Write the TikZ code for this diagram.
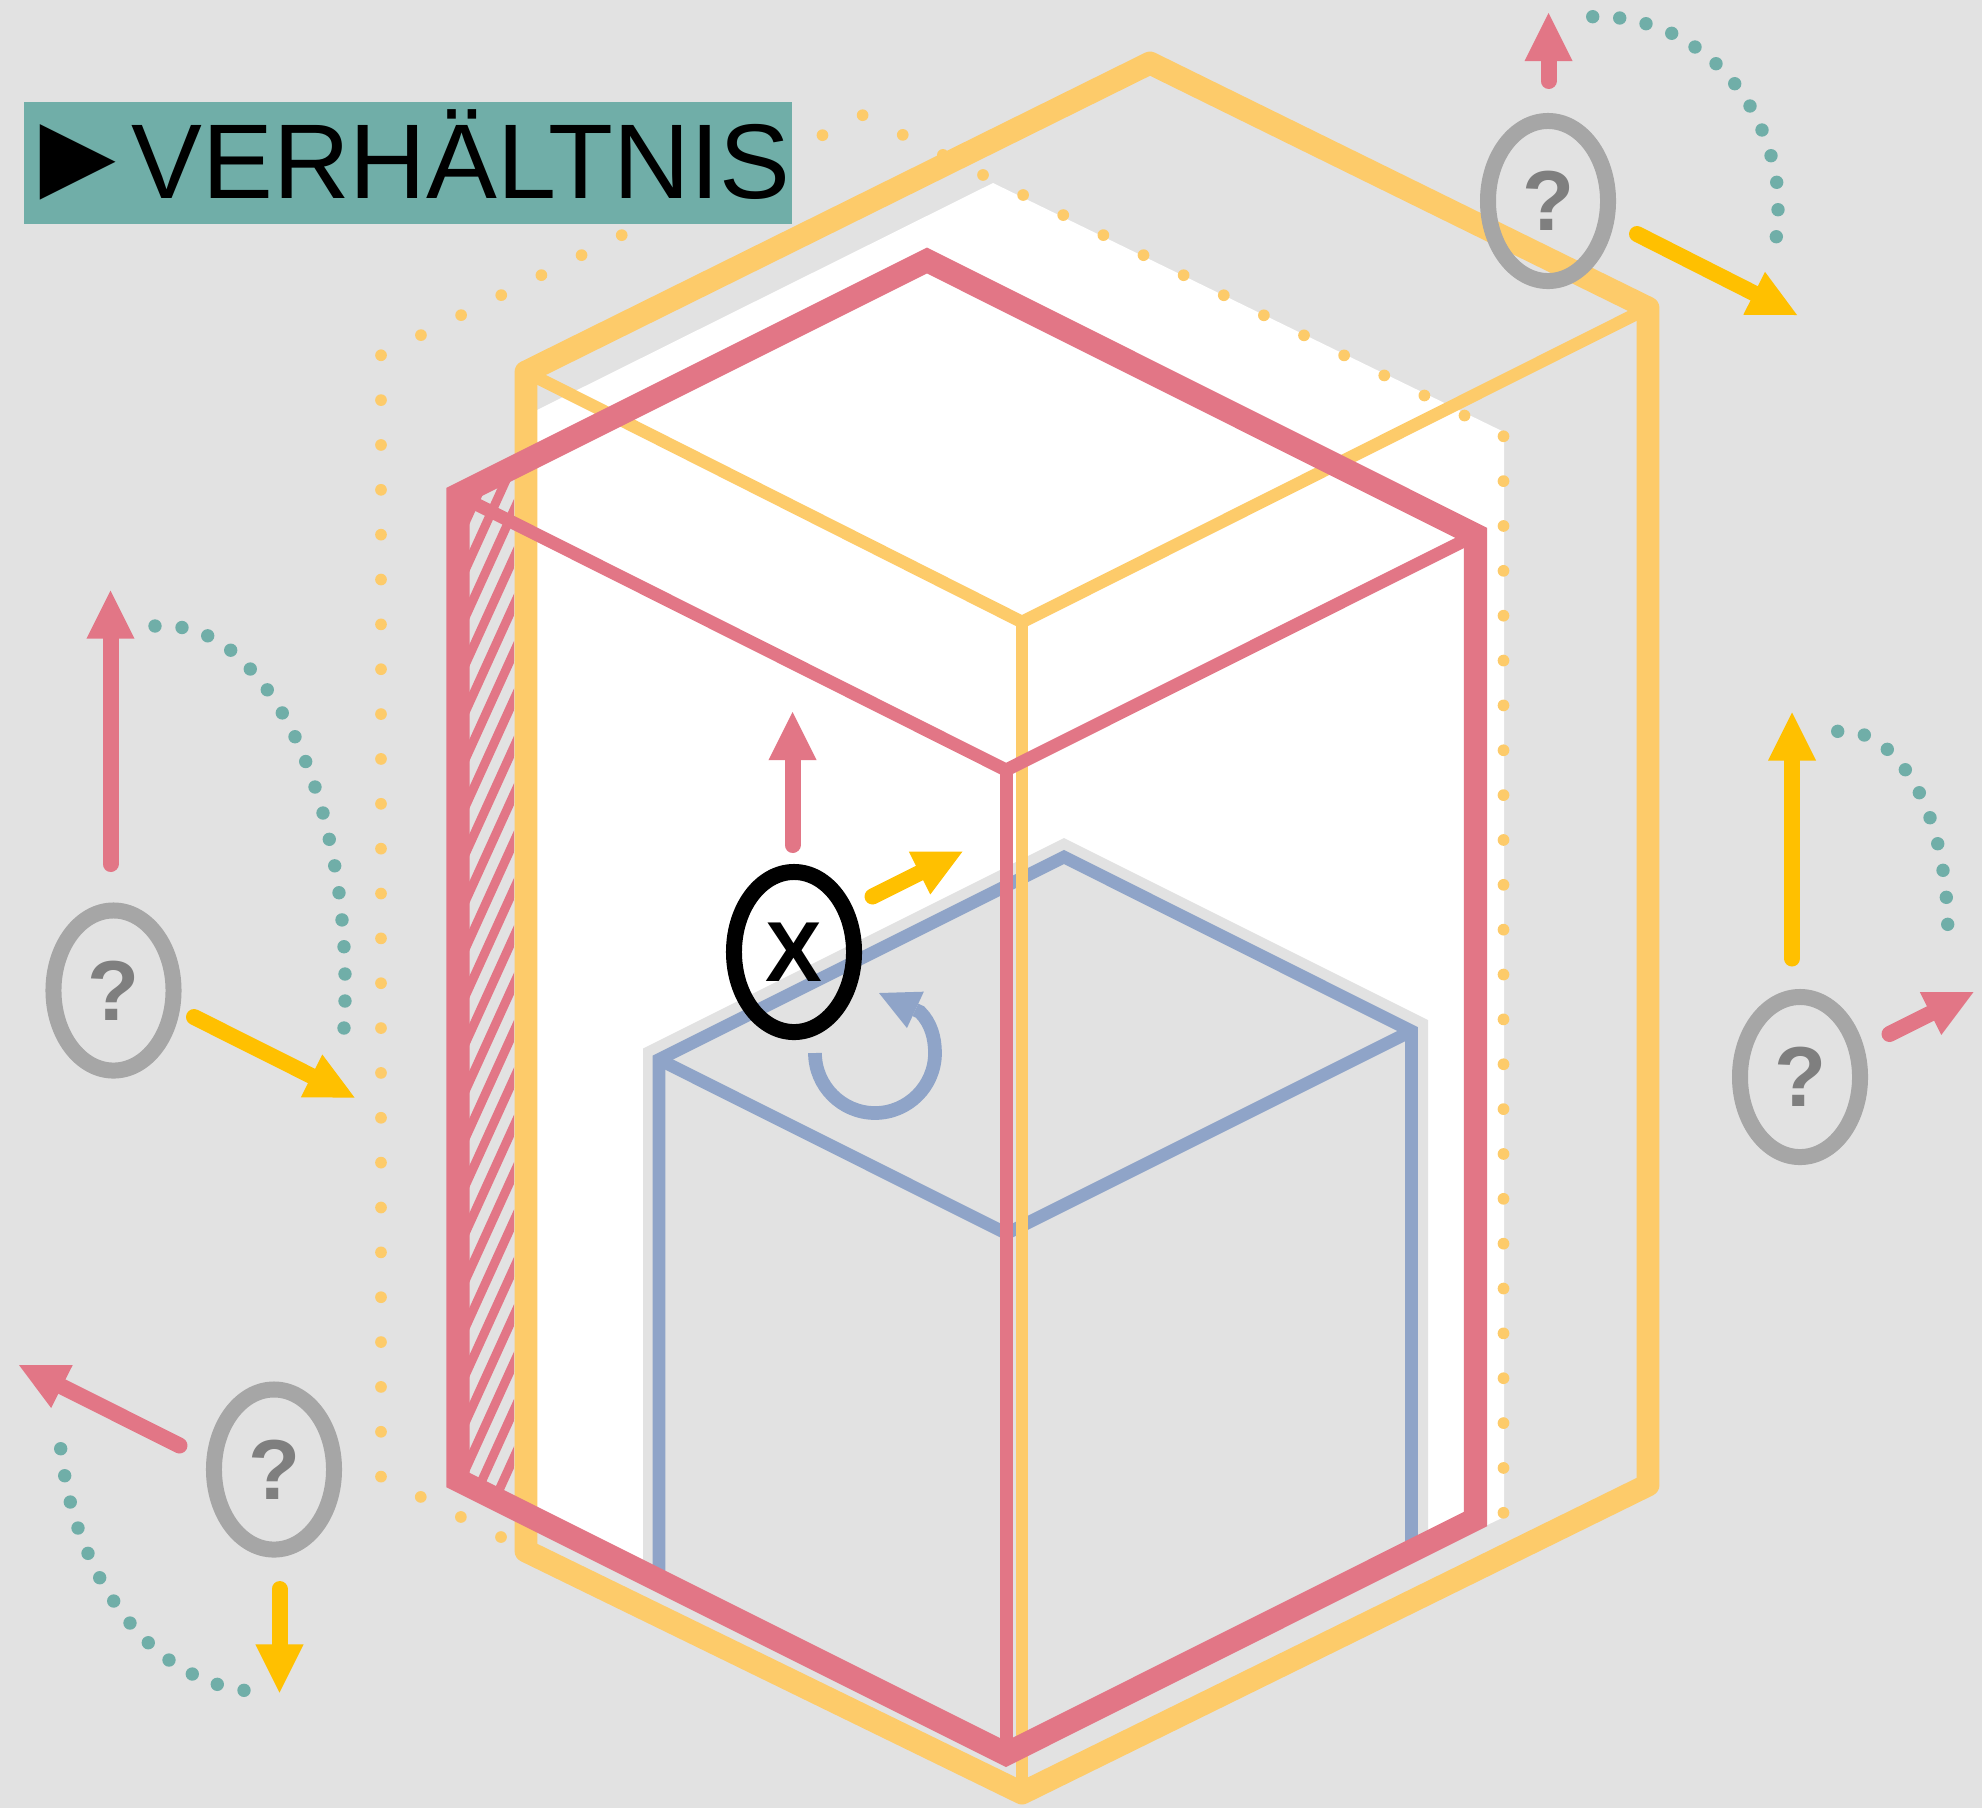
\documentclass[tikz,border=0pt]{standalone}
\usepackage{fontspec}
\setmainfont{Liberation Sans}
\usetikzlibrary{arrows.meta,shapes.geometric}
\definecolor{bgcol}{HTML}{E2E2E2}
\definecolor{gelb}{HTML}{FDCB6A}
\definecolor{gold}{HTML}{FFC000}
\definecolor{rosa}{HTML}{E27686}
\definecolor{blau}{HTML}{8FA4C8}
\definecolor{tuerkis}{HTML}{70AEA8}
\definecolor{grau}{HTML}{A6A6A6}
\definecolor{dunkelgrau}{HTML}{7F7F7F}
\begin{document}
\begin{tikzpicture}[x=0.01cm,y=-0.01cm,
  gelbdick/.style={draw=gelb,line width=6.5pt,line join=round},
  gelbduenn/.style={draw=gelb,line width=3.6pt},
  rosadick/.style={draw=rosa,line width=6.6pt},
  rosaduenn/.style={draw=rosa,line width=3.7pt},
  blaulinie/.style={draw=blau,line width=3.6pt},
  pfeil/.style={line width=4.55pt,line cap=round,-{Triangle[length=13.66pt,width=13.66pt,line width=0pt]}},
  ring/.style={ellipse,draw=grau,line width=4.55pt,minimum width=34.14pt,minimum height=45.52pt,inner sep=0pt,
    text=dunkelgrau,font=\fontsize{24.2pt}{24.2pt}\selectfont\bfseries}]
\useasboundingbox (0,0) rectangle (1982,1808);
\fill[bgcol] (0,0) rectangle (1982,1808);
% white box and grey cube
\fill[white] (537,410) -- (993,183) -- (1504,432) -- (1504,1517) -- (1006,1754) -- (537,1520) -- cycle;
\fill[bgcol] (643,1573) -- (643,1048.5) -- (1064,838) -- (1428,1020) -- (1428,1543) -- (1006,1754) -- cycle;
% dotted outline
\draw[gelb,line width=3.33pt,line cap=round,dash pattern=on 0pt off 12.755pt]
  (501,1537) -- (381,1477) -- (381,355) -- (863,115) -- (1503.5,435) -- (1503.5,1516);
% cube
\draw[blaulinie] (659,1573) -- (659,1059.5) -- (1064,857) -- (1411.5,1031) -- (1411.5,1543);
\draw[blaulinie] (659,1059.5) -- (1006.5,1233.5) -- (1411.5,1031);
% hatching
\begin{scope}
\clip (458,495) -- (514,467) -- (514,1508) -- (458,1480) -- cycle;
\foreach \k in {-2,...,21} \draw[rosa,line width=2.56pt] (460,{581.3+47.37*\k}) -- ++(60,-132);
\end{scope}
% outer prism
\draw[gelbdick] (526,372) -- (1150,63) -- (1648,308) -- (1648,1485) -- (1022,1793) -- (526,1551) -- cycle;
\draw[gelbduenn] (526,372) -- (1022,622) -- (1648,308);
\draw[gelbduenn] (1022,622) -- (1022,1793);
% inner prism
\draw[rosadick] (458,495) -- (927,260.5) -- (1475.5,535) -- (1475.5,1519) -- (1006,1754) -- (458,1480) -- cycle;
\draw[rosaduenn] (458,495) -- (1006,770) -- (1475.5,535);
\draw[rosaduenn] (1006,770) -- (1006,1754);
% title
\node[fill=tuerkis,anchor=base west,inner sep=0pt,minimum width=218.2pt,text height=27.3pt,text depth=7.4pt,
  font=\fontsize{30.2pt}{30.2pt}\selectfont] (titel) at (23.5,198)
  {\kern-2.5pt{\fontsize{36pt}{36pt}\selectfont ►}\kern-2.6pt VERHÄLTNIS\kern0.3pt};
% the rings
\node[ring] (qoben) at (1548,201) {?};
\node[ring] (qlinks) at (113.5,990.5) {?};
\node[ring] (qrechts) at (1800,1077) {?};
\node[ring] (qunten) at (274,1469.5) {?};
\node[ring,draw=black,text=black] (xring) at (794,952) {X};
% arrows
\foreach \n/\ax/\ay/\bx/\by/\c in {
  a/1548.5/81/1548.5/13/rosa, b/1637/234/1797/315/gold,
  c/110.5/864/110.5/590.5/rosa, d/194/1017/354.5/1097.5/gold,
  e/1792/958.5/1792/712.5/gold, f/1889.5/1034/1973.5/992/rosa,
  g/179.5/1445.5/19/1365/rosa, h/279.5/1589/279.5/1692.5/gold,
  i/792.5/845/792.5/712/rosa, j/872.5/896.5/962.5/851.5/gold} {
  \coordinate (\n0) at (\ax,\ay);
  \coordinate (\n1) at (\bx,\by);
  \draw[pfeil,draw=\c] (\n0) -- (\n1);
}
% turning arrow
\coordinate (dreh0) at (815,1053);
\coordinate (dreh1) at (879,993);
\draw[blau,line width=3.9pt,-{Triangle[length=11.4pt,width=11.4pt,line width=0pt]}] (dreh0)
  .. controls (815,1086) and (842,1113) .. (875,1113)
  .. controls (908,1113) and (935,1086) .. (935,1053)
  .. controls (935,1038) and (931,1023) .. (920,1012) -- (dreh1);
% teal dots
\foreach \x/\y in {1592.7/16.7,1619.7/18,1646/23.7,1671.7/33.3,1695/47,1716/63.7,1734.7/83.7,1750/106,1762/130,
  1771/155.7,1776.7/182.3,1778/209.7,1776.3/236.7,
  155/626,182/627.5,207.7/635.8,230.7/650.2,250.3/669,267.3/689.8,282.3/712.9,295/736.7,305.7/761.5,315/787,
  323/813,329.3/839.3,334.7/865.8,339/892.7,342/919.9,344/946.7,345/974,345/1001,344/1028,
  1837.7/731.3,1864.3/735,1887.3/749.3,1905.3/769.7,1919.3/792.7,1930/817.7,1937.7/843.7,1943/870.3,1946.3/897.3,1947.7/924.3,
  60.7/1448.7,64.7/1475.7,70.3/1502,78/1528,88/1553.3,99.7/1577.7,113.7/1601,130/1623,148.3/1642.7,169/1660,192.3/1674,217.3/1684.3,244/1690.3}
  \fill[tuerkis] (\x,\y) circle (1.9pt);
\end{tikzpicture}
\end{document}
